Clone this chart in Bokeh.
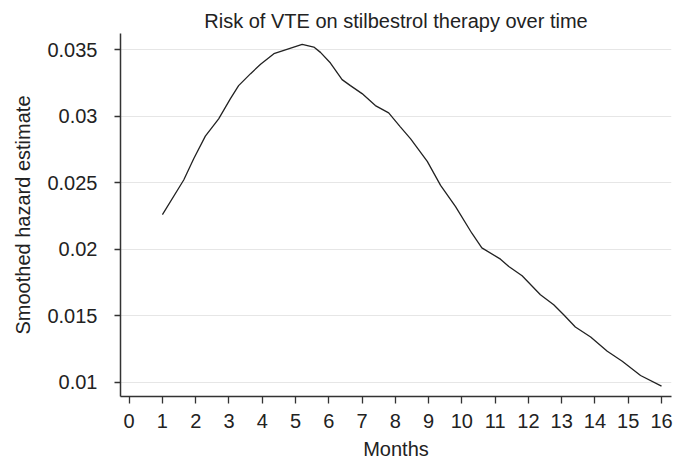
from bokeh.plotting import figure
from bokeh.models import FixedTicker, NumeralTickFormatter, Range1d
from bokeh.embed import file_html
from bokeh.resources import INLINE

months = [1.0, 1.64, 1.94, 2.29, 2.69, 3.04, 3.29, 3.65, 3.95, 4.35, 4.65, 5.2,
          5.55, 5.75, 6.05, 6.4, 6.65, 7.0, 7.4, 7.8, 8.15, 8.46, 8.96, 9.36,
          9.81, 10.3, 10.6, 11.16, 11.41, 11.81, 12.36, 12.76, 13.06, 13.41,
          13.87, 14.37, 14.82, 15.37, 16.0]
hazard = [0.0226, 0.0252, 0.0268, 0.0285, 0.0298, 0.0313, 0.0323, 0.0332, 0.0339,
          0.0347, 0.03495, 0.0354, 0.0352, 0.0348, 0.0340, 0.03275, 0.0323, 0.0317,
          0.0308, 0.03025, 0.0292, 0.0283, 0.0266, 0.0248, 0.0232, 0.0212, 0.0201,
          0.01925, 0.0187, 0.0180, 0.01657, 0.01582, 0.01507, 0.01415, 0.0134,
          0.01232, 0.01157, 0.0105, 0.0097]
x_ticks = list(range(0, 17))
y_ticks = [0.01, 0.015, 0.02, 0.025, 0.03, 0.035]

FONT = "Liberation Sans"
TXT = "#222222"

p = figure(width=686, height=462, output_backend="svg", toolbar_location=None,
           x_range=Range1d(-0.26, 16.3), y_range=Range1d(0.00892, 0.03622),
           title="Risk of VTE on stilbestrol therapy over time",
           min_border_left=120, min_border_right=15, min_border_top=33,
           min_border_bottom=65)
p.outline_line_color = None
p.background_fill_color = "white"
p.border_fill_color = "white"

p.title.align = "center"
p.title.text_font = FONT
p.title.text_font_size = "20px"
p.title.text_font_style = "normal"
p.title.text_color = TXT
p.title.standoff = 4

p.line(months, hazard, line_color="#222222", line_width=1.3)

p.xgrid.visible = False
p.ygrid.ticker = FixedTicker(ticks=y_ticks)
p.ygrid.grid_line_color = "#e6e6e6"
p.ygrid.grid_line_width = 1

for ax in (p.xaxis[0], p.yaxis[0]):
    ax.axis_line_color = "#333333"
    ax.axis_line_width = 1.5
    ax.major_tick_line_color = "#333333"
    ax.major_tick_line_width = 1.3
    ax.major_tick_in = 0
    ax.minor_tick_line_color = None
    ax.major_label_text_font = FONT
    ax.major_label_text_font_size = "20px"
    ax.major_label_text_color = TXT
    ax.axis_label_text_font = FONT
    ax.axis_label_text_font_size = "20px"
    ax.axis_label_text_font_style = "normal"
    ax.axis_label_text_color = TXT

p.xaxis.ticker = FixedTicker(ticks=x_ticks)
p.xaxis.major_tick_out = 7
p.xaxis.major_label_standoff = 10
p.xaxis.axis_label = "Months"
p.xaxis.axis_label_standoff = 7

p.yaxis.ticker = FixedTicker(ticks=y_ticks)
p.yaxis.formatter = NumeralTickFormatter(format="0.[000]")
p.yaxis.major_tick_out = 6
p.yaxis.major_label_standoff = 17
p.yaxis.axis_label = "Smoothed hazard estimate"
p.yaxis.axis_label_standoff = 10

open("out.html", "w").write(file_html(p, INLINE))
